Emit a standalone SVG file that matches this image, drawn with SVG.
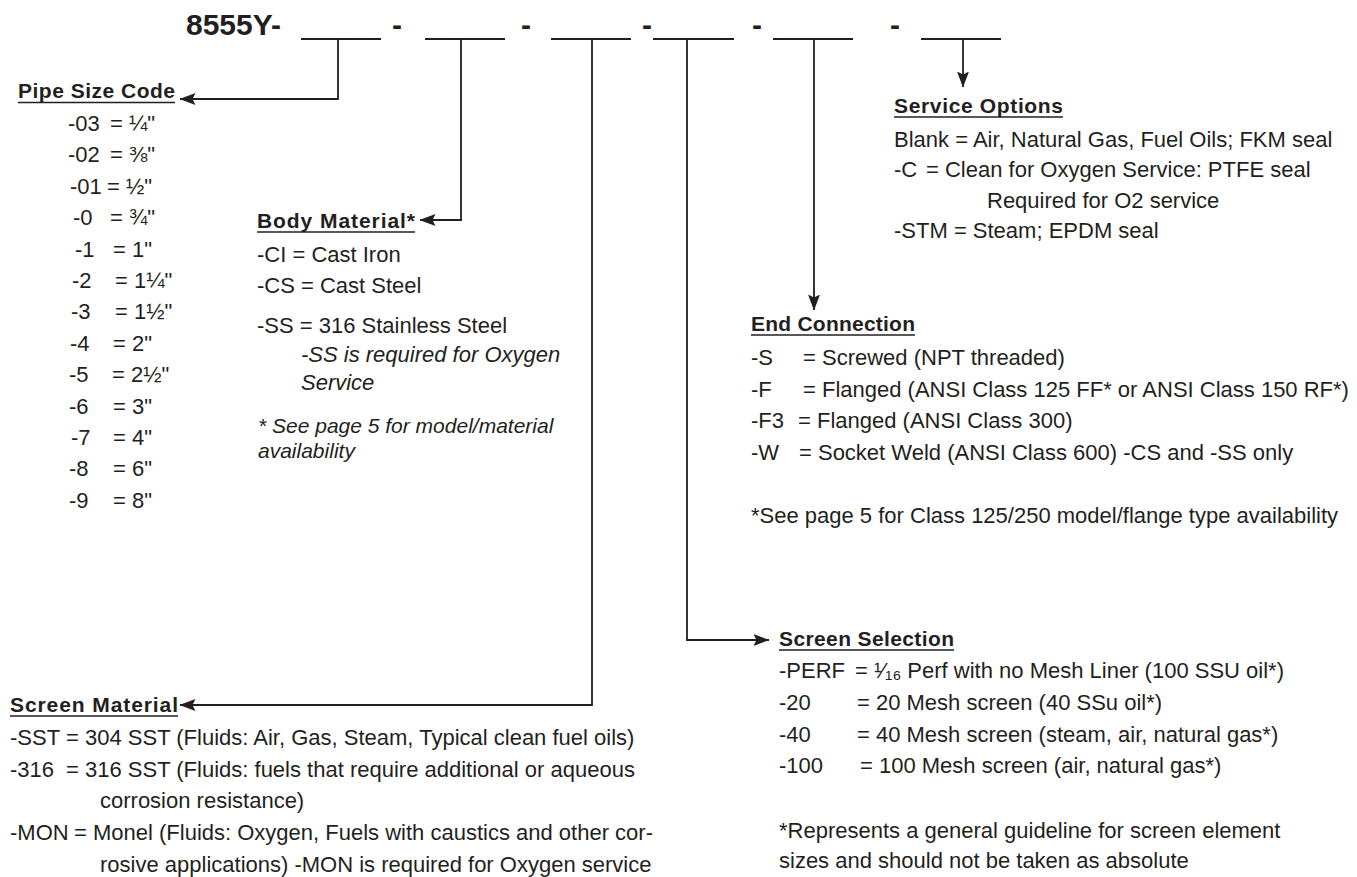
<svg xmlns="http://www.w3.org/2000/svg" width="1357" height="877" viewBox="0 0 1357 877">
<style>
.t{font-family:"Liberation Sans",Arial,sans-serif;font-size:22px;fill:#231f20}
.h{font-weight:bold;font-size:21px}
.i{font-style:italic}
.fn{font-size:21px}
.code{font-family:"Liberation Sans",Arial,sans-serif;font-weight:bold;font-size:30px;fill:#231f20}
.ul{stroke:#231f20;stroke-width:1.5}
.bl{stroke:#231f20;stroke-width:1.8}
.conn{fill:none;stroke:#231f20;stroke-width:1.8;marker-end:url(#arr)}
</style>
<defs>
<marker id="arr" viewBox="0 0 16 12" refX="15.5" refY="6" markerWidth="16" markerHeight="12" markerUnits="userSpaceOnUse" orient="auto">
<path d="M0,0 L16,6 L0,12 L3,6 z" fill="#231f20"/>
</marker>
</defs>
<rect width="1357" height="877" fill="#ffffff"/>

<g id="model-code">
<text class="code" x="186" y="35">8555Y-</text>
<line class="bl" x1="301" y1="39" x2="381" y2="39"/>
<text class="code" x="392" y="35">-</text>
<line class="bl" x1="425" y1="39" x2="505" y2="39"/>
<text class="code" x="521" y="35">-</text>
<line class="bl" x1="551" y1="39" x2="631" y2="39"/>
<text class="code" x="642" y="35">-</text>
<line class="bl" x1="653" y1="39" x2="734" y2="39"/>
<text class="code" x="752" y="35">-</text>
<line class="bl" x1="773" y1="39" x2="853" y2="39"/>
<text class="code" x="890" y="35">-</text>
<line class="bl" x1="921" y1="39" x2="1001" y2="39"/>
</g>

<g id="connectors">
<path class="conn" d="M338,39 V99 H180"/>
<path class="conn" d="M461,39 V220 H420"/>
<path class="conn" d="M592,39 V705 H180"/>
<path class="conn" d="M687,39 V640 H769"/>
<path class="conn" d="M814,39 V310"/>
<path class="conn" d="M963,39 V87"/>
</g>

<g id="pipe-size-code">
<text class="t h" x="18" y="98" textLength="157" lengthAdjust="spacing">Pipe Size Code</text>
<line class="ul" x1="18" y1="102.5" x2="175" y2="102.5"/>
<text class="t" x="68" y="131">-03</text><text class="t" x="110" y="131">= ¼"</text>
<text class="t" x="68" y="162">-02</text><text class="t" x="110" y="162">= ⅜"</text>
<text class="t" x="70" y="194">-01</text><text class="t" x="107" y="194">= ½"</text>
<text class="t" x="73" y="225">-0</text><text class="t" x="110" y="225">= ¾"</text>
<text class="t" x="75" y="257">-1</text><text class="t" x="113" y="257">= 1"</text>
<text class="t" x="72" y="288">-2</text><text class="t" x="115" y="288">= 1¼"</text>
<text class="t" x="71" y="319">-3</text><text class="t" x="115" y="319">= 1½"</text>
<text class="t" x="70" y="351">-4</text><text class="t" x="113" y="351">= 2"</text>
<text class="t" x="69" y="382">-5</text><text class="t" x="112" y="382">= 2½"</text>
<text class="t" x="69" y="414">-6</text><text class="t" x="113" y="414">= 3"</text>
<text class="t" x="71" y="445">-7</text><text class="t" x="113" y="445">= 4"</text>
<text class="t" x="69" y="476">-8</text><text class="t" x="113" y="476">= 6"</text>
<text class="t" x="69" y="508">-9</text><text class="t" x="113" y="508">= 8"</text>
</g>

<g id="body-material">
<text class="t h" x="257" y="228" textLength="158" lengthAdjust="spacing">Body Material*</text>
<line class="ul" x1="257" y1="232" x2="415" y2="232"/>
<text class="t" x="257" y="262">-CI = Cast Iron</text>
<text class="t" x="257" y="293">-CS = Cast Steel</text>
<text class="t" x="257" y="333">-SS = 316 Stainless Steel</text>
<text class="t i" x="301" y="362">-SS is required for Oxygen</text>
<text class="t i" x="301" y="390">Service</text>
<text class="t i fn" x="258" y="433">* See page 5 for model/material</text>
<text class="t i fn" x="258" y="458">availability</text>
</g>

<g id="service-options">
<text class="t h" x="894" y="113" textLength="169" lengthAdjust="spacing">Service Options</text>
<line class="ul" x1="894" y1="117" x2="1063" y2="117"/>
<text class="t" x="894" y="147">Blank = Air, Natural Gas, Fuel Oils; FKM seal</text>
<text class="t" x="894" y="177">-C</text><text class="t" x="926" y="177">= Clean for Oxygen Service: PTFE seal</text>
<text class="t" x="987" y="208">Required for O2 service</text>
<text class="t" x="894" y="238">-STM = Steam; EPDM seal</text>
</g>

<g id="end-connection">
<text class="t h" x="751" y="331" textLength="164" lengthAdjust="spacing">End Connection</text>
<line class="ul" x1="751" y1="335" x2="915" y2="335"/>
<text class="t" x="751" y="365">-S</text><text class="t" x="803" y="365">= Screwed (NPT threaded)</text>
<text class="t" x="751" y="397">-F</text><text class="t" x="803" y="397">= Flanged (ANSI Class 125 FF* or ANSI Class 150 RF*)</text>
<text class="t" x="751" y="428">-F3</text><text class="t" x="798" y="428">= Flanged (ANSI Class 300)</text>
<text class="t" x="751" y="460">-W</text><text class="t" x="799" y="460">= Socket Weld (ANSI Class 600) -CS and -SS only</text>
<text class="t" x="751" y="523">*See page 5 for Class 125/250 model/flange type availability</text>
</g>

<g id="screen-selection">
<text class="t h" x="779" y="646" textLength="175" lengthAdjust="spacing">Screen Selection</text>
<line class="ul" x1="779" y1="650" x2="954" y2="650"/>
<text class="t" x="779" y="678">-PERF</text><text class="t" x="855" y="678">= ¹⁄₁₆ Perf with no Mesh Liner (100 SSU oil*)</text>
<text class="t" x="779" y="710">-20</text><text class="t" x="857" y="710">= 20 Mesh screen (40 SSu oil*)</text>
<text class="t" x="779" y="742">-40</text><text class="t" x="857" y="742">= 40 Mesh screen (steam, air, natural gas*)</text>
<text class="t" x="779" y="773">-100</text><text class="t" x="860" y="773">= 100 Mesh screen (air, natural gas*)</text>
<text class="t" x="779" y="838">*Represents a general guideline for screen element</text>
<text class="t" x="779" y="868">sizes and should not be taken as absolute</text>
</g>

<g id="screen-material">
<text class="t h" x="10" y="712" textLength="168" lengthAdjust="spacing">Screen Material</text>
<line class="ul" x1="10" y1="716" x2="178" y2="716"/>
<text class="t" x="10" y="745">-SST</text><text class="t" x="66" y="745">= 304 SST (Fluids: Air, Gas, Steam, Typical clean fuel oils)</text>
<text class="t" x="10" y="777">-316</text><text class="t" x="66" y="777">= 316 SST (Fluids: fuels that require additional or aqueous</text>
<text class="t" x="100" y="808">corrosion resistance)</text>
<text class="t" x="10" y="840">-MON</text><text class="t" x="74" y="840">= Monel (Fluids: Oxygen, Fuels with caustics and other cor-</text>
<text class="t" x="100" y="872">rosive applications) -MON is required for Oxygen service</text>
</g>
</svg>
